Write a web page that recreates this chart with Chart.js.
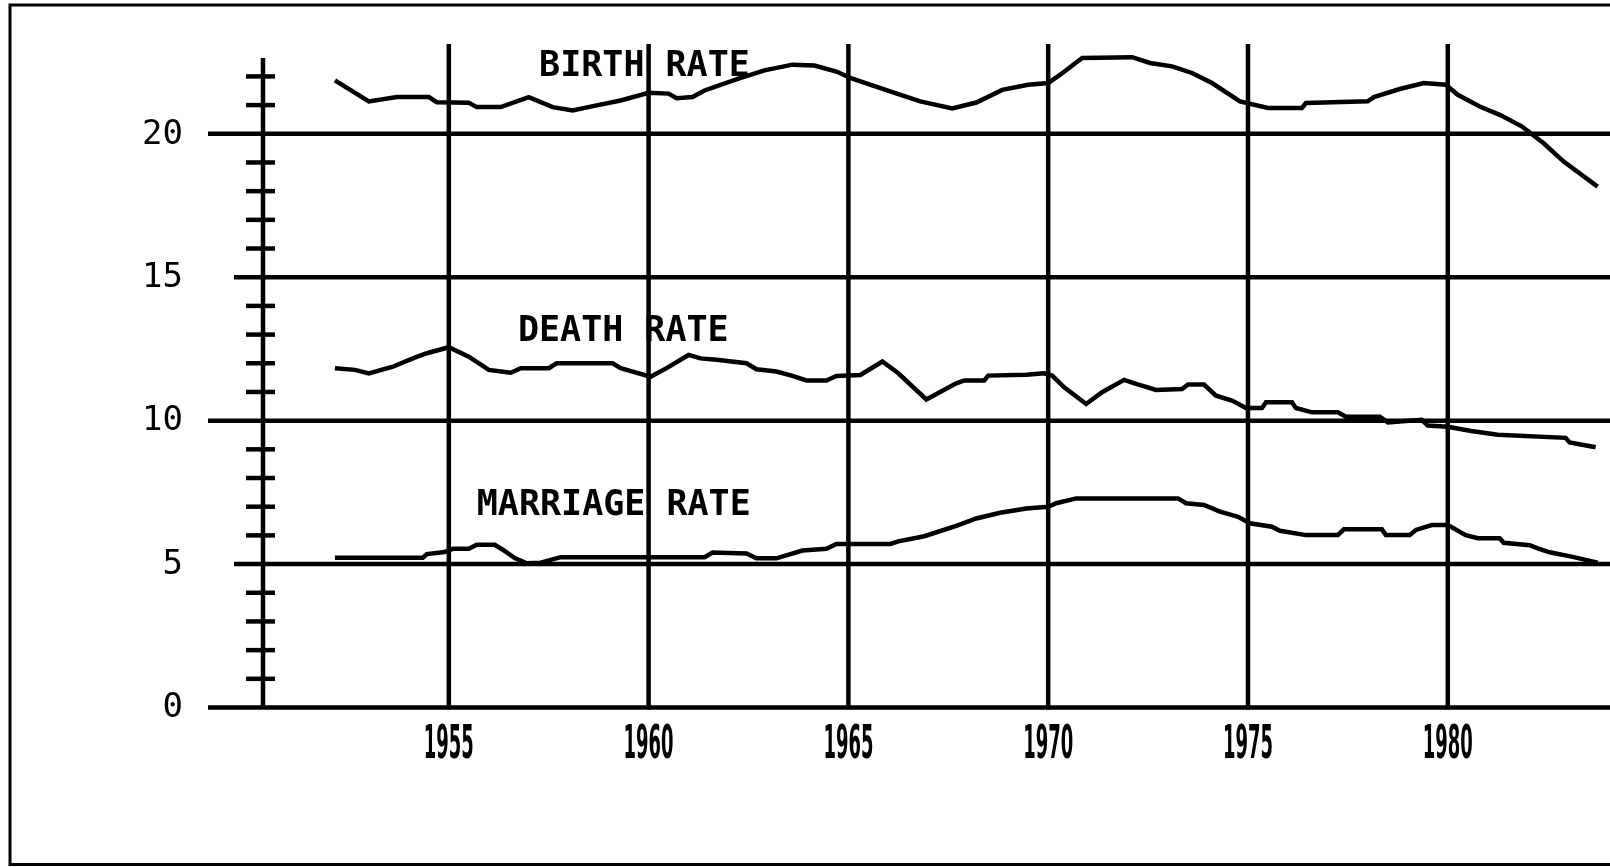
<!DOCTYPE html>
<html>
<head>
<meta charset="utf-8">
<script src="https://cdn.jsdelivr.net/npm/chart.js@4.4.1/dist/chart.umd.min.js"></script>
<style>
  html, body { margin: 0; padding: 0; background: #fff; }
  #wrap { width: 1610px; height: 867px; position: relative; }
</style>
</head>
<body>
<div id="wrap"><canvas id="rates"></canvas></div>
<script>
// --- data ---
const birthYears = [1952.15, 1953.0, 1953.7, 1954.5, 1954.7, 1955.5, 1955.7, 1956.3, 1957.0, 1957.6, 1958.1, 1958.7, 1959.3, 1960.0, 1960.5, 1960.7, 1961.1, 1961.4, 1962.25, 1962.9, 1963.6, 1964.15, 1964.7, 1965.1, 1966.1, 1966.8, 1967.6, 1968.2, 1968.85, 1969.5, 1970.0, 1970.3, 1970.85, 1972.1, 1972.55, 1973.1, 1973.6, 1974.1, 1974.8, 1975.5, 1976.35, 1976.45, 1978.0, 1978.15, 1978.8, 1979.4, 1979.95, 1980.25, 1980.8, 1981.3, 1981.85, 1982.4, 1982.9, 1983.75];
const birthRate = [21.86, 21.13, 21.28, 21.28, 21.1, 21.08, 20.93, 20.93, 21.28, 20.93, 20.81, 20.99, 21.16, 21.43, 21.4, 21.24, 21.28, 21.51, 21.92, 22.21, 22.41, 22.38, 22.17, 21.92, 21.45, 21.13, 20.88, 21.09, 21.53, 21.71, 21.77, 22.06, 22.64, 22.67, 22.47, 22.35, 22.12, 21.77, 21.13, 20.9, 20.9, 21.07, 21.13, 21.28, 21.56, 21.77, 21.71, 21.36, 20.95, 20.66, 20.26, 19.67, 19.03, 18.16];

const deathYears = [1952.15, 1952.65, 1953.0, 1953.6, 1954.1, 1954.45, 1955.0, 1955.5, 1956.0, 1956.55, 1956.8, 1957.5, 1957.7, 1959.1, 1959.3, 1959.6, 1960.05, 1960.45, 1961.0, 1961.3, 1961.7, 1962.45, 1962.7, 1963.2, 1963.6, 1963.95, 1964.45, 1964.7, 1965.3, 1965.85, 1966.25, 1966.95, 1967.7, 1967.9, 1968.4, 1968.5, 1969.45, 1969.9, 1970.1, 1970.4, 1970.95, 1971.35, 1971.9, 1972.2, 1972.7, 1973.35, 1973.5, 1973.9, 1974.2, 1974.6, 1974.95, 1975.35, 1975.45, 1976.1, 1976.2, 1976.6, 1977.25, 1977.45, 1978.3, 1978.5, 1979.35, 1979.5, 1980.0, 1980.55, 1981.25, 1982.95, 1983.05, 1983.7];
const deathRate = [11.83, 11.77, 11.65, 11.88, 12.17, 12.35, 12.56, 12.23, 11.77, 11.67, 11.83, 11.83, 12.0, 12.0, 11.83, 11.71, 11.53, 11.83, 12.29, 12.17, 12.12, 12.0, 11.79, 11.71, 11.56, 11.4, 11.4, 11.56, 11.59, 12.06, 11.65, 10.74, 11.3, 11.4, 11.4, 11.57, 11.6, 11.65, 11.57, 11.16, 10.58, 10.99, 11.42, 11.28, 11.07, 11.1, 11.26, 11.26, 10.87, 10.7, 10.44, 10.44, 10.64, 10.64, 10.44, 10.29, 10.29, 10.14, 10.14, 9.94, 10.03, 9.83, 9.79, 9.65, 9.51, 9.4, 9.24, 9.07];

const marriageYears = [1952.15, 1954.35, 1954.45, 1954.9, 1955.1, 1955.5, 1955.7, 1956.15, 1956.35, 1956.65, 1956.95, 1957.3, 1957.8, 1961.4, 1961.6, 1962.45, 1962.7, 1963.2, 1963.85, 1964.45, 1964.7, 1966.05, 1966.25, 1966.9, 1967.7, 1968.2, 1968.8, 1969.45, 1970.0, 1970.2, 1970.7, 1973.25, 1973.45, 1973.9, 1974.3, 1974.75, 1975.05, 1975.6, 1975.8, 1976.45, 1977.25, 1977.4, 1978.35, 1978.45, 1979.05, 1979.2, 1979.6, 1980.0, 1980.45, 1980.75, 1981.3, 1981.4, 1982.05, 1982.25, 1982.55, 1983.1, 1983.75];
const marriageRate = [5.22, 5.22, 5.35, 5.42, 5.53, 5.53, 5.67, 5.67, 5.5, 5.21, 5.03, 5.05, 5.24, 5.24, 5.4, 5.37, 5.2, 5.2, 5.47, 5.53, 5.7, 5.7, 5.79, 5.97, 6.33, 6.59, 6.79, 6.94, 7.0, 7.12, 7.29, 7.29, 7.12, 7.06, 6.83, 6.65, 6.42, 6.3, 6.16, 6.01, 6.01, 6.21, 6.21, 6.01, 6.01, 6.19, 6.36, 6.36, 6.01, 5.9, 5.9, 5.74, 5.66, 5.55, 5.41, 5.26, 5.05];

const yearTicks = [1955, 1960, 1965, 1970, 1975, 1980];
const rateTicks = [0, 5, 10, 15, 20];
const minorTicks = [1, 2, 3, 4, 6, 7, 8, 9, 11, 12, 13, 14, 16, 17, 18, 19, 21, 22];

// series labels: [text, year at left edge, rate at middle]
const seriesLabels = [
    ['BIRTH RATE', 1957.26, 22.36],
    ['DEATH RATE', 1956.73, 13.14],
    ['MARRIAGE RATE', 1955.7, 7.06]
];

const toPoints = (xs, ys) => xs.map((x, i) => ({ x: x, y: ys[i] }));

// --- frame, grid, axis and texts drawn against the chart scales ---
const framePlugin = {
    id: 'frame',
    beforeDatasetsDraw(chart) {
        const c = chart.ctx;
        const xs = chart.scales.x, ys = chart.scales.y;
        const area = chart.chartArea;
        const axisX = area.left;
        const zeroY = ys.getPixelForValue(0);
        c.save();
        c.strokeStyle = '#000';
        c.lineCap = 'butt';

        // outer border
        c.lineWidth = 3;
        c.strokeRect(10, 5, 1700, 859.5);

        // horizontal grid
        c.lineWidth = 4.5;
        rateTicks.forEach(v => {
            const py = ys.getPixelForValue(v);
            const start = v % 10 === 0 ? axisX - 55 : axisX - 29;
            c.beginPath(); c.moveTo(start, py); c.lineTo(area.right, py); c.stroke();
        });

        // vertical grid
        yearTicks.forEach(yr => {
            const px = xs.getPixelForValue(yr);
            c.beginPath(); c.moveTo(px, area.top); c.lineTo(px, zeroY + 2); c.stroke();
        });

        // y axis with minor ticks
        c.beginPath(); c.moveTo(axisX, area.top + 14); c.lineTo(axisX, zeroY); c.stroke();
        minorTicks.forEach(v => {
            const py = ys.getPixelForValue(v);
            c.beginPath(); c.moveTo(axisX - 17, py); c.lineTo(axisX + 12, py); c.stroke();
        });

        // y tick labels
        c.fillStyle = '#000';
        c.font = '34px "DejaVu Sans Mono", monospace';
        c.textAlign = 'right';
        c.textBaseline = 'middle';
        rateTicks.forEach(v => {
            c.fillText(String(v), axisX - 80, ys.getPixelForValue(v) + 1);
        });

        // x tick labels, squeezed like the plotter font
        c.font = 'bold 46px "Liberation Sans Narrow", "DejaVu Sans Condensed", sans-serif';
        c.textAlign = 'center';
        yearTicks.forEach(yr => {
            const txt = String(yr);
            const w = c.measureText(txt).width;
            const sx = 50 / w;
            c.save();
            c.translate(xs.getPixelForValue(yr), zeroY + 39);
            c.scale(sx, 1);
            c.fillText(txt, 0, 0);
            c.restore();
        });
        c.restore();
    },
    afterDatasetsDraw(chart) {
        const c = chart.ctx;
        const xs = chart.scales.x, ys = chart.scales.y;
        c.save();
        c.fillStyle = '#000';
        c.font = 'bold 35px "DejaVu Sans Mono", monospace';
        c.textAlign = 'left';
        c.textBaseline = 'middle';
        seriesLabels.forEach(([txt, yr, v]) => {
            c.fillText(txt, xs.getPixelForValue(yr), ys.getPixelForValue(v) + 1);
        });
        c.restore();
    }
};

const lineStyle = { borderColor: '#000', borderWidth: 4.5, pointRadius: 0, tension: 0, fill: false };

new Chart(document.getElementById('rates'), {
    type: 'line',
    data: {
        datasets: [
            Object.assign({ label: 'Birth rate', data: toPoints(birthYears, birthRate) }, lineStyle),
            Object.assign({ label: 'Death rate', data: toPoints(deathYears, deathRate) }, lineStyle),
            Object.assign({ label: 'Marriage rate', data: toPoints(marriageYears, marriageRate) }, lineStyle)
        ]
    },
    options: {
        responsive: true,
        maintainAspectRatio: false,
        animation: false,
        layout: { padding: { left: 263, top: 44, right: 0, bottom: 159.5 } },
        plugins: { legend: { display: false }, tooltip: { enabled: false } },
        scales: {
            x: { type: 'linear', min: 1950.35, max: 1984.06, display: false },
            y: { type: 'linear', min: 0, max: 23.13, display: false }
        }
    },
    plugins: [framePlugin]
});
</script>
</body>
</html>
